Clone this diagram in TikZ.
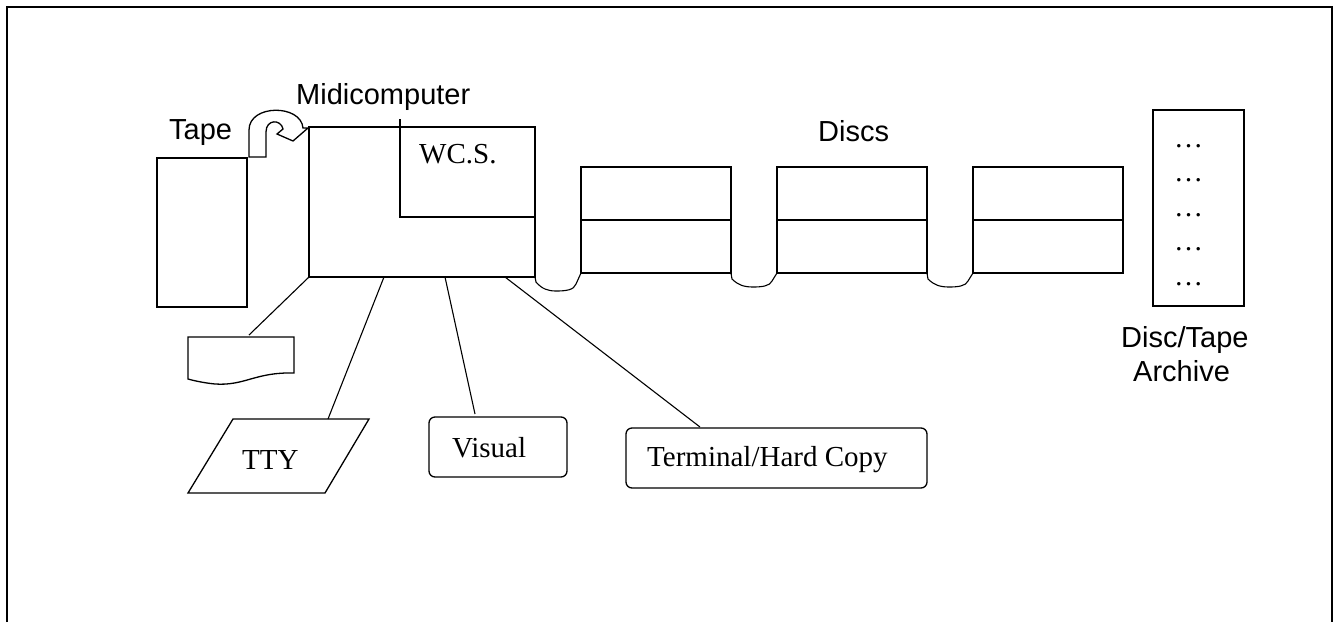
\documentclass[tikz,border=0pt]{standalone}
\usepackage{fontspec}
\setmainfont{Liberation Serif}
\newfontfamily\arialf{Liberation Sans}
\usetikzlibrary{calc}
\begin{document}
\begin{tikzpicture}[x=1pt,y=-1pt,
  box/.style={draw, line width=1.3pt, inner sep=0pt, outer sep=0pt, rectangle},
  rbox/.style={box, rounded corners=6pt},
  shapeline/.style={line width=1.3pt, line join=miter},
  conn/.style={line width=1.1pt},
  sanslbl/.style={font=\arialf\fontsize{29}{34}\selectfont, inner sep=0pt, anchor=base west},
  seriflbl/.style={font=\fontsize{29}{34}\selectfont, inner sep=0pt, anchor=base west},
]
\useasboundingbox (0,0) rectangle (1338,622);
% frame
\draw[line width=2pt] (7,622) -- (7,7) -- (1332,7) -- (1332,622);

% tape
\node[box, minimum width=90pt, minimum height=149pt] (tape) at (202,232.5) {};
\node[sanslbl] (tapelbl) at (169,139) {Tape};
% curved tape arrow
\draw[shapeline] (249,157) -- (249,130) .. controls (249,104) and (301,104) .. (303,128)
  -- (308,128) -- (293,141) -- (277,134) -- (283,129)
  .. controls (281,119) and (266,119) .. (266,132) -- (266,157) -- cycle;

% midicomputer
\node[box, minimum width=226pt, minimum height=150pt] (comp) at (422,202) {};
\node[sanslbl] (complbl) at (296,104) {Midicomputer};
\coordinate (wcsTop) at (400,119);
\coordinate (wcsCorner) at (400,217);
\draw[conn] (wcsTop) -- (wcsCorner) -- (wcsCorner -| comp.east);
\node[seriflbl] (wcs) at (419,163) {WC.S.};

% discs
\node[box, minimum width=150pt, minimum height=106pt] (d1) at (656,220) {};
\node[box, minimum width=150pt, minimum height=106pt] (d2) at (852,220) {};
\node[box, minimum width=150pt, minimum height=106pt] (d3) at (1048,220) {};
\foreach \d in {d1,d2,d3} \draw[conn] (\d.west) -- (\d.east);
\node[sanslbl] (discslbl) at (818,141) {Discs};

% U-shaped links
\draw[conn] (comp.south east) -- (536,282) .. controls (542,289) and (548,291) .. (556,291)
  .. controls (566,291) and (574,290) .. (576,284) -- (d1.south west);
\draw[conn] (d1.south east) -- (732,279) .. controls (738,285) and (744,287) .. (753,287)
  .. controls (762,287) and (770,286) .. (772,281) -- (d2.south west);
\draw[conn] (d2.south east) -- (928,279) .. controls (934,285) and (940,287) .. (949,287)
  .. controls (958,287) and (966,286) .. (968,281) -- (d3.south west);

% archive
\node[box, minimum width=91pt, minimum height=196pt] (arch) at (1198.5,208) {};
\foreach \yy in {147,181.5,216,250.5,285}
  \node[seriflbl] at (1174,\yy) {…};
\node[sanslbl] (archlbl1) at (1121,347) {Disc/Tape};
\node[sanslbl] (archlbl2) at (1133,381) {Archive};

% document (printer output)
\draw[shapeline] (188,379) -- (188,337) -- (294,337) -- (294,373)
  .. controls (255,372) and (245,386) .. (215,384)
  .. controls (205,383) and (195,381) .. (188,379) -- cycle;
\coordinate (docTop) at (249,335);
\draw[conn] (comp.south west) -- (docTop);

% TTY
\draw[shapeline] (233,419) -- (369,419) -- (325,493) -- (188,493) -- cycle;
\coordinate (ttyTop) at (328,419);
\node[seriflbl] (tty) at (242,469) {TTY};
\draw[conn] ($(comp.south west)+(75,0)$) -- (ttyTop);

% Visual
\node[rbox, minimum width=138pt, minimum height=60pt] (vis) at (498,447) {};
\node[seriflbl] (vislbl) at (452,457) {Visual};
\draw[conn] ($(comp.south west)+(136,0)$) -- ($(vis.north west)+(46,-3)$);

% Terminal/Hard Copy
\node[rbox, minimum width=301pt, minimum height=60pt] (term) at (776.5,458) {};
\node[seriflbl] (termlbl) at (647,466) {Terminal/Hard Copy};
\draw[conn] ($(comp.south west)+(196,0)$) -- ($(term.north west)+(74,-1)$);
\end{tikzpicture}
\end{document}
